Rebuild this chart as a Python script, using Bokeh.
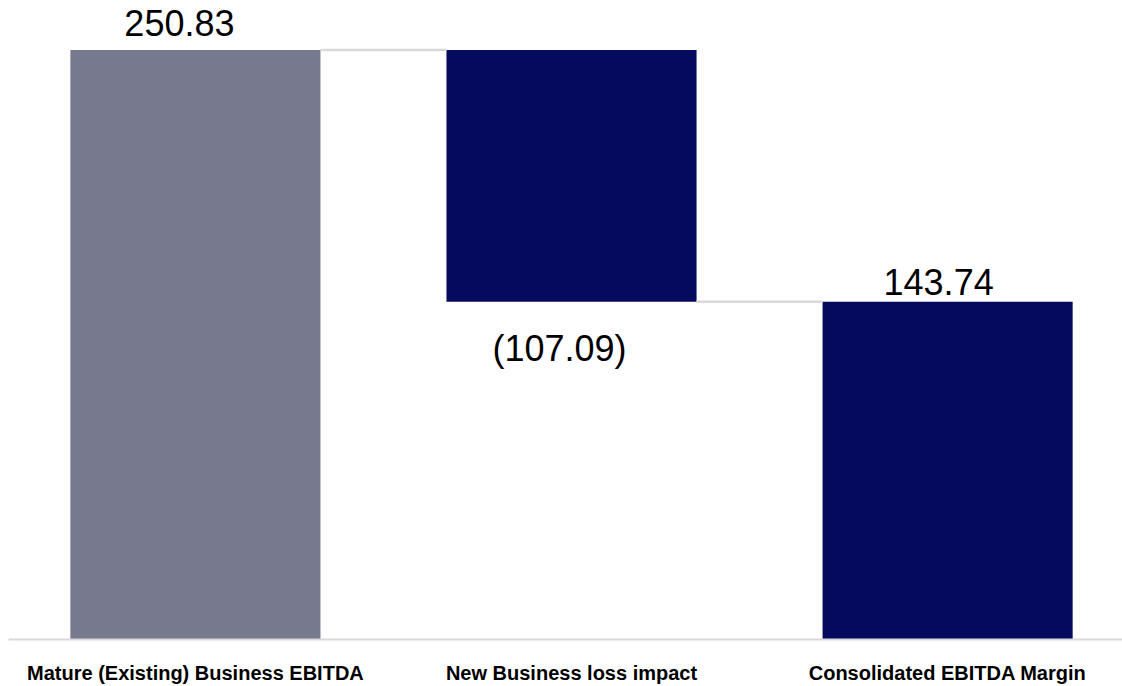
from bokeh.plotting import figure
from bokeh.models import ColumnDataSource, Range1d, FixedTicker
from bokeh.core.properties import value
from bokeh.embed import file_html
from bokeh.resources import INLINE

# ---- data ----
categories = ["Mature (Existing) Business EBITDA", "New Business loss impact", "Consolidated EBITDA Margin"]
values = [250.83, -107.09, 143.74]
kinds = ["total", "delta", "total"]
value_labels = ["250.83", "(107.09)", "143.74"]

# ---- waterfall geometry from data ----
xs = list(range(len(categories)))
bottoms, tops = [], []
running = 0.0
for v, k in zip(values, kinds):
    if k == "total":
        bottoms.append(0.0)
        tops.append(v)
        running = v
    else:
        new = running + v
        bottoms.append(min(running, new))
        tops.append(max(running, new))
        running = new

GRAY = "#77798F"
NAVY = "#050A5F"
colors = [GRAY, NAVY, NAVY]
BAR_W = 0.665

p = figure(width=1122, height=686, output_backend="svg", toolbar_location=None,
           x_range=Range1d(-0.497, 2.465), y_range=Range1d(0, 271.9),
           y_axis_location=None, min_border_left=8, min_border_right=0,
           min_border_top=0, min_border_bottom=47)
p.outline_line_color = None
p.xgrid.visible = False
p.ygrid.visible = False
p.background_fill_color = "white"
p.border_fill_color = "white"

src = ColumnDataSource(dict(x=xs, bottom=bottoms, top=tops, color=colors))
p.vbar(x="x", width=BAR_W, bottom="bottom", top="top", fill_color="color",
       line_color=None, source=src)

# connectors: from end level of one bar to the next
cx0, cx1, cy = [], [], []
for i in range(len(xs) - 1):
    level = tops[i] if (kinds[i] == "total" or values[i] > 0) else bottoms[i]
    cx0.append(xs[i] + BAR_W / 2)
    cx1.append(xs[i + 1] - BAR_W / 2)
    cy.append(level)
p.segment(x0=cx0, y0=cy, x1=cx1, y1=cy, line_color="#D9D9D9", line_width=2.5)

# value labels
label_y = [tops[0], bottoms[1], tops[2]]
x_offs = [-16, -12, -9]
y_offs = [-27, 47, -20]
lsrc = ColumnDataSource(dict(x=xs, y=label_y, t=value_labels, xo=x_offs, yo=y_offs))
p.text(x="x", y="y", text="t", x_offset="xo", y_offset="yo", source=lsrc,
       text_align="center", text_baseline="alphabetic",
       text_font=value("Liberation Sans"), text_font_size="36px", text_color="#000000")

# axis
ax = p.xaxis[0]
ax.ticker = FixedTicker(ticks=xs)
ax.major_label_overrides = {i: c for i, c in enumerate(categories)}
ax.axis_line_color = "#D9D9D9"
ax.axis_line_width = 2
ax.major_tick_line_color = None
ax.minor_tick_line_color = None
ax.major_tick_out = 0
ax.major_tick_in = 0
ax.major_label_text_font = "Liberation Sans"
ax.major_label_text_font_style = "bold"
ax.major_label_text_font_size = "20px"
ax.major_label_text_color = "#000000"
ax.major_label_standoff = 22

open("out.html", "w").write(file_html(p, INLINE))
